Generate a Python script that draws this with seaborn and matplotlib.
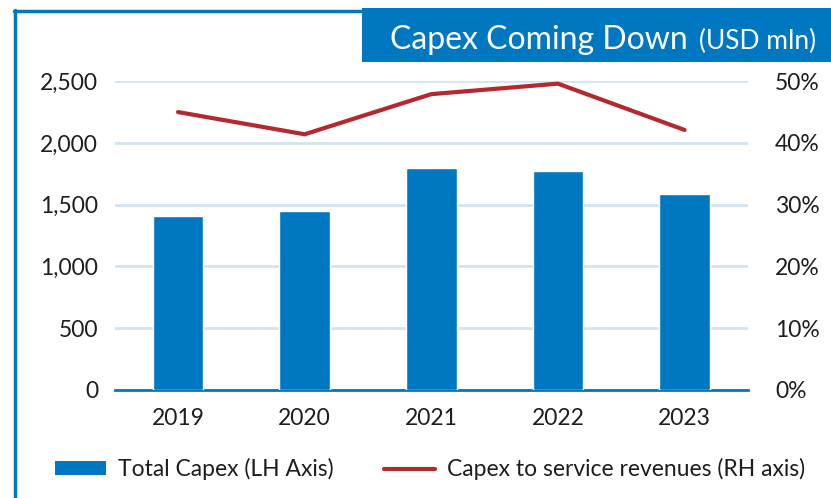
import matplotlib
matplotlib.use("Agg")
import matplotlib.pyplot as plt
from matplotlib.patches import Rectangle, Patch
from matplotlib.lines import Line2D
from matplotlib.ticker import FuncFormatter, MultipleLocator
import numpy as np
import pandas as pd
import seaborn as sns

years = ["2019", "2020", "2021", "2022", "2023"]
total_capex = [1410, 1446, 1799, 1772, 1583]
capex_ratio = [45.0, 41.4, 47.9, 49.6, 42.1]

BLUE = "#0078c1"
RED = "#b5282e"
GRID = "#d2e4f2"
INK = "#1e1e1e"

sns.set_theme(style="white")
plt.rcParams["font.family"] = ["Lato", "DejaVu Sans"]

df = pd.DataFrame({"year": years, "capex": total_capex, "ratio": capex_ratio})

fig = plt.figure(figsize=(8.31, 4.98), dpi=100)
ax = fig.add_axes([0.138, 0.217, 0.762, 0.620])

sns.barplot(data=df, x="year", y="capex", color=BLUE, width=0.4,
            saturation=1, ax=ax, zorder=3)
ax.set_xlim(-0.5, len(years) - 0.5)
ax.set_ylim(0, 2500)
ax.yaxis.set_major_locator(MultipleLocator(500))
ax.yaxis.set_major_formatter(FuncFormatter(lambda v, p: f"{int(v):,}"))
ax.grid(axis="y", color=GRID, linewidth=2)
ax.set_axisbelow(True)
ax.set_xlabel("")
ax.set_ylabel("")
for s in ["top", "right", "left"]:
    ax.spines[s].set_visible(False)
ax.spines["bottom"].set_color(BLUE)
ax.spines["bottom"].set_linewidth(2)
ax.tick_params(axis="y", length=0, pad=12, labelsize=16.5, colors=INK)
ax.tick_params(axis="x", length=0, pad=13, labelsize=16.5, colors=INK)

ax2 = ax.twinx()
sns.lineplot(x=np.arange(len(years)), y=df["ratio"], color=RED, linewidth=3,
             ax=ax2, zorder=4)
ax2.set_ylim(0, 50)
ax2.yaxis.set_major_locator(MultipleLocator(10))
ax2.yaxis.set_major_formatter(FuncFormatter(lambda v, p: f"{int(v)}%"))
ax2.set_ylabel("")
for s in ["top", "right", "left", "bottom"]:
    ax2.spines[s].set_visible(False)
ax2.tick_params(axis="y", length=0, pad=19.5, labelsize=16.5, colors=INK)
ax2.grid(False)

# frame and title banner
fig.add_artist(Line2D([0.018, 0.018], [0.0, 0.98], transform=fig.transFigure,
                      color=BLUE, linewidth=2.5))
fig.add_artist(Line2D([0.017, 0.435], [0.978, 0.978], transform=fig.transFigure,
                      color=BLUE, linewidth=2.5))
fig.add_artist(Rectangle((0.436, 0.8755), 0.564, 0.108, transform=fig.transFigure,
                         facecolor=BLUE, edgecolor="none"))
title_y = 0.9016
title = fig.text(0.4695, title_y, "Capex Coming Down", color="white",
                 fontsize=23, va="baseline", ha="left")
fig.canvas.draw()
bb = title.get_window_extent(fig.canvas.get_renderer())
fig.text((bb.x1 + 11) / fig.bbox.width, title_y, "(USD mln)", color="white",
         fontsize=19, va="baseline", ha="left")

handles = [Patch(facecolor=BLUE, edgecolor="none"),
           Line2D([0], [0], color=RED, linewidth=3)]
fig.legend(handles, ["Total Capex (LH Axis)", "Capex to service revenues (RH axis)"],
           loc="center", bbox_to_anchor=(0.518, 0.058), ncol=2, frameon=False,
           fontsize=16.5, handlelength=2.2, handleheight=0.5, handletextpad=0.55,
           columnspacing=2.2, labelcolor=INK)

fig.savefig("out.png", dpi=100)
